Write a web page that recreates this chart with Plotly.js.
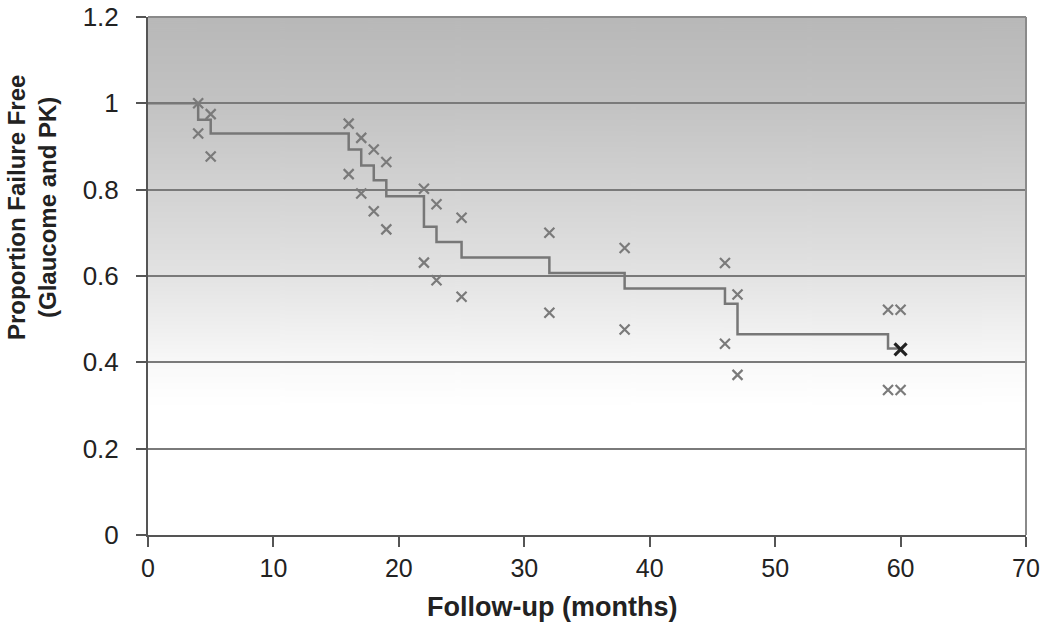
<!DOCTYPE html>
<html>
<head>
<meta charset="utf-8">
<script src="https://cdn.plot.ly/plotly-3.0.1.min.js"></script>
<style>html,body{margin:0;padding:0;background:#fff;}#chart{width:1050px;height:631px;}</style>
</head>
<body>
<div id="chart"></div>
<script>
// Kaplan-Meier step curve
const kmTime = [0, 4, 5, 16, 17, 18, 19, 22, 23, 25, 32, 38, 46, 47, 59, 60];
const kmSurv = [1, 0.962, 0.93, 0.893, 0.856, 0.822, 0.785, 0.714, 0.679, 0.643, 0.607, 0.571, 0.536, 0.465, 0.432, 0.432];
// Confidence bounds (× markers)
const upperX = [4, 5, 16, 17, 18, 19, 22, 23, 25, 32, 38, 46, 47, 59, 60];
const upperY = [1.0, 0.975, 0.953, 0.92, 0.893, 0.864, 0.802, 0.766, 0.735, 0.70, 0.665, 0.63, 0.557, 0.522, 0.522];
const lowerX = [4, 5, 16, 17, 18, 19, 22, 23, 25, 32, 38, 46, 47, 59, 60];
const lowerY = [0.93, 0.877, 0.836, 0.791, 0.75, 0.708, 0.631, 0.59, 0.552, 0.515, 0.476, 0.443, 0.371, 0.336, 0.336];
// Censored end point
const censX = [60];
const censY = [0.43];
const xTicks = [0, 10, 20, 30, 40, 50, 60, 70];
const yTicks = [0, 0.2, 0.4, 0.6, 0.8, 1, 1.2];
const yTickText = ['0', '0.2', '0.4', '0.6', '0.8', '1', '1.2'];

// background gradient
const cv = document.createElement('canvas');
cv.width = 10; cv.height = 520;
const ctx = cv.getContext('2d');
const g = ctx.createLinearGradient(0, 0, 0, 520);
g.addColorStop(0, '#b8b8b8');
g.addColorStop(0.17, '#c3c3c3');
g.addColorStop(0.5, '#e3e3e3');
g.addColorStop(0.68, '#fafafa');
g.addColorStop(0.75, '#ffffff');
g.addColorStop(1, '#ffffff');
ctx.fillStyle = g;
ctx.fillRect(0, 0, 10, 520);
const bg = cv.toDataURL('image/png');

const mk = {symbol: 'x-thin-open', size: 10, color: '#7a7a7a', line: {width: 2.2, color: '#7a7a7a'}};

const traces = [
  {x: kmTime, y: kmSurv, mode: 'lines', line: {shape: 'hv', color: '#777777', width: 2.5}, hoverinfo: 'skip'},
  {x: upperX, y: upperY, mode: 'markers', marker: mk},
  {x: lowerX, y: lowerY, mode: 'markers', marker: mk},
  {x: censX, y: censY, mode: 'markers', marker: {symbol: 'x-thin-open', size: 12, color: '#222', line: {width: 3.2, color: '#222'}}}
];

const fam = 'Liberation Sans, Arial, sans-serif';
const tickFont = {family: fam, size: 26, color: '#222'};
const xTickFont = {family: fam, size: 25, color: '#222'};

const layout = {
  width: 1050, height: 631,
  margin: {l: 148, r: 24, t: 17, b: 96},
  paper_bgcolor: '#ffffff',
  plot_bgcolor: 'rgba(0,0,0,0)',
  showlegend: false,
  font: tickFont,
  images: [{source: bg, xref: 'paper', yref: 'paper', x: 0, y: 1, sizex: 1, sizey: 1, sizing: 'stretch', layer: 'below'}],
  xaxis: {
    range: [0, 70], tickvals: xTicks, showgrid: false, zeroline: false,
    showline: true, linecolor: '#555', linewidth: 2,
    ticks: 'outside', ticklen: 10, tickwidth: 2, tickcolor: '#555',
    tickfont: xTickFont
  },
  yaxis: {
    range: [0, 1.2], tickvals: yTicks, ticktext: yTickText, showgrid: true,
    gridcolor: '#7a7a7a', gridwidth: 2, zeroline: false,
    showline: true, linecolor: '#555', linewidth: 2,
    ticks: 'outside', ticklen: 10, tickwidth: 2, tickcolor: '#555',
    ticklabelstandoff: 12,
    tickfont: tickFont
  },
  shapes: [
    {type: 'line', xref: 'paper', yref: 'paper', x0: 0, x1: 1, y0: 1, y1: 1, line: {color: '#8a8a8a', width: 2}},
    {type: 'line', xref: 'paper', yref: 'paper', x0: 1, x1: 1, y0: 0, y1: 1, line: {color: '#8a8a8a', width: 2}}
  ],
  annotations: [
    {text: '<b>Follow-up (months)</b>', xref: 'paper', yref: 'paper', x: (552 - 148) / 878, y: -(607 - 535) / 518,
     xanchor: 'center', yanchor: 'middle', showarrow: false, font: {family: fam, size: 27, color: '#222'}},
    {text: '<b>Proportion Failure Free<br>(Glaucome and PK)</b>', xref: 'paper', yref: 'paper', x: -(148 - 32) / 878, y: (535 - 208) / 518,
     xanchor: 'center', yanchor: 'middle', textangle: -90, showarrow: false, font: {family: fam, size: 24, color: '#222'}}
  ]
};

Plotly.newPlot('chart', traces, layout, {staticPlot: true});
</script>
</body>
</html>
